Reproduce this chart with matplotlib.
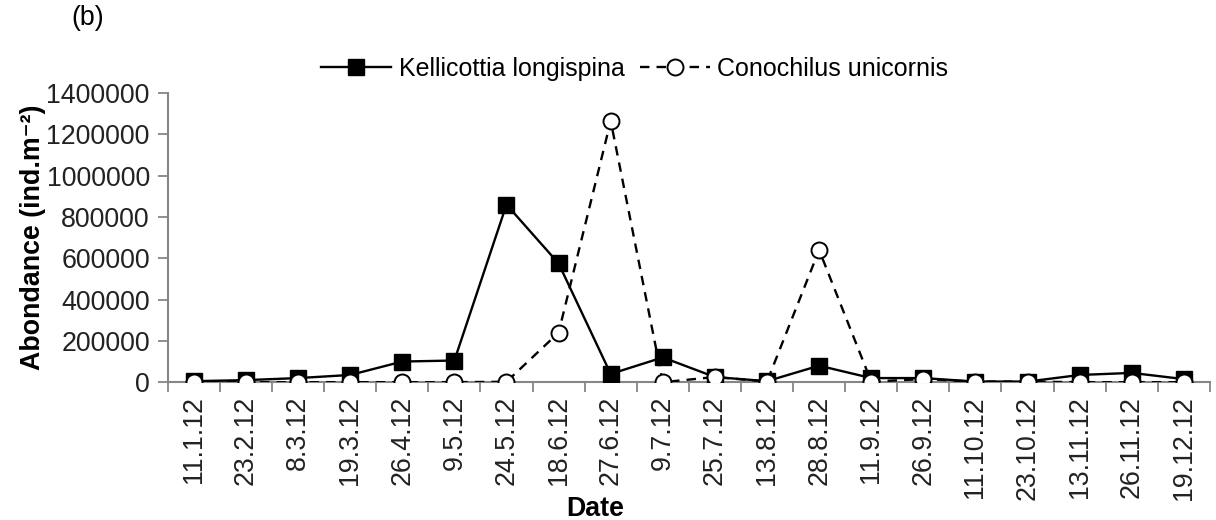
import numpy as np
import matplotlib
matplotlib.use('Agg')
import matplotlib.pyplot as plt

plt.rcParams['font.family'] = ['Liberation Sans', 'DejaVu Sans']

# ── DATA ─────────────────────────────────────────────────────────────────────
dates = ['11.1.12', '23.2.12', '8.3.12', '19.3.12', '26.4.12', '9.5.12',
         '24.5.12', '18.6.12', '27.6.12', '9.7.12', '25.7.12', '13.8.12',
         '28.8.12', '11.9.12', '26.9.12', '11.10.12', '23.10.12', '13.11.12',
         '26.11.12', '19.12.12']

kellicottia = [5000, 10000, 20000, 35000, 100000, 105000,
               860000, 575000, 40000, 120000, 25000, 5000,
               80000, 20000, 20000, 3000, 3000, 35000,
               45000, 15000]

conochilus = [0, 0, 0, 0, 0, 0,
              2000, 240000, 1265000, 0, 25000, 3000,
              640000, 3000, 15000, 3000, 3000, 0,
              0, 0]

yticks = [0, 200000, 400000, 600000, 800000, 1000000, 1200000, 1400000]

# ── PLOT ─────────────────────────────────────────────────────────────────────
FS = 19.3
GREY = '#868686'

fig = plt.figure(figsize=(12.16, 5.2), dpi=100)
ax = fig.add_axes([0.138, 0.265, 0.857, 0.556])

x = np.arange(len(dates))
ax.plot(x, kellicottia, color='black', lw=1.7, marker='s', ms=11.5,
        mfc='black', mec='black', label='Kellicottia longispina', zorder=3)
ax.plot(x, conochilus, color='black', lw=1.7, ls=(0, (4, 3)), marker='o',
        ms=11.5, mfc='white', mec='black', mew=1.4,
        label='Conochilus unicornis', zorder=4)

ax.set_xlim(-0.5, len(dates) - 0.5)
ax.set_ylim(0, 1400000)
ax.set_yticks(yticks)
ax.set_yticklabels([str(v) for v in yticks], fontsize=FS, color='#222222')

ax.set_xticks(x)
ax.set_xticklabels(dates, rotation=90, fontsize=FS, color='#222222')
ax.tick_params(axis='x', which='major', length=0, pad=10)
ax.set_xticks(np.arange(-0.5, len(dates), 1), minor=True)
ax.tick_params(axis='x', which='minor', length=7, color=GREY, width=1.3,
               direction='out')
ax.tick_params(axis='y', length=7, color=GREY, width=1.3, direction='out',
               pad=6)

for side in ['top', 'right']:
    ax.spines[side].set_visible(False)
for side in ['left', 'bottom']:
    ax.spines[side].set_color(GREY)
    ax.spines[side].set_linewidth(1.5)

ax.set_ylabel('Abondance (ind.m\u207b\u00b2)', fontsize=FS,
              fontweight='bold', labelpad=0)
ax.set_xlabel('Date', fontsize=FS, fontweight='bold', labelpad=0)
ax.xaxis.set_label_coords(0.41, -0.395)

ax.legend(loc='lower center', bbox_to_anchor=(0.448, 1.0), ncol=2,
          frameon=False, fontsize=18, handlelength=2.8, columnspacing=0.6,
          handletextpad=0.3, borderaxespad=0.1)

fig.text(0.059, 0.965, '(b)', fontsize=FS, ha='left', va='center')

fig.savefig('out.png', dpi=100)
